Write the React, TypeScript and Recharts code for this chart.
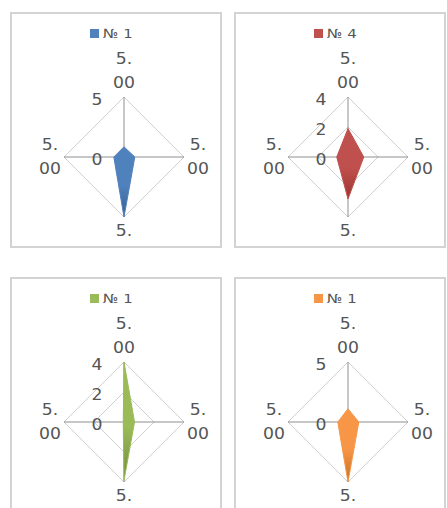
import { RadarChart, Radar, PolarGrid, PolarAngleAxis, PolarRadiusAxis, Legend } from 'recharts'

// category labels round the four spokes (top, right, bottom, left)
const categories = ['5.00', '5.00', '5.00', '5.00']

// one series per little chart
const blueValues = [0.85, 0.9, 5, 0.85]
const redValues = [1.9, 1.05, 2.8, 0.75]
const greenValues = [4, 0.7, 3.9, 0.05]
const orangeValues = [1.1, 0.9, 5, 0.85]

const seriesNames = ['№ 1', '№ 4', '№ 1', '№ 1']
const radiusMax = [5, 4, 4, 5]
const radiusTicks = [
  [0, 5],
  [0, 2, 4],
  [0, 2, 4],
  [0, 5],
]

const FONT = '"DejaVu Sans", sans-serif'
const TEXT = '#555555'

const W = 208
const H = 232
const CX = 112
const CY = 143
const R = 60
const STRETCH = 1.15

const panels = [
  { values: blueValues, color: '#4F81BD', dark: '#3A5F8E', left: 10, top: 12 },
  { values: redValues, color: '#C0504D', dark: '#9B3431', left: 234, top: 12 },
  { values: greenValues, color: '#9BBB59', dark: '#6F8A3A', left: 10, top: 277 },
  { values: orangeValues, color: '#F79646', dark: '#C86F22', left: 234, top: 277 },
]

function CategoryTick(props: any) {
  const { payload } = props
  const label = categories[payload.value] ?? ''
  const a = (payload.coordinate * Math.PI) / 180
  const cos = Math.cos(a)
  const sin = Math.sin(a)
  const bx = CX + R * cos + 14 * cos
  const by = CY - R * sin - 26 * sin
  const cut = label.indexOf('.') + 1
  // wrapped like the original: lines that fall past the frame are dropped
  const lines = [
    { t: label.slice(0, cut), dy: -12 },
    { t: label.slice(cut), dy: 12 },
  ].filter((l) => by + l.dy + 6 < H - 2)
  return (
    <g transform={`translate(${bx} ${by}) scale(${STRETCH} 1)`}>
      <text textAnchor="middle" fontSize={15} fontFamily={FONT} fill={TEXT}>
        {lines.map((l, i) => (
          <tspan key={i} x={0} y={l.dy} dominantBaseline="central">
            {l.t}
          </tspan>
        ))}
      </text>
    </g>
  )
}

function RadiusTick(props: any) {
  const { payload } = props
  const y = CY - payload.coordinate + 2.5
  return (
    <g transform={`translate(${CX - 27} ${y}) scale(${STRETCH} 1)`}>
      <text textAnchor="middle" dominantBaseline="central" fontSize={15} fontFamily={FONT} fill={TEXT}>
        {payload.value}
      </text>
    </g>
  )
}

function LegendBox({ name, color }: { name: string; color: string }) {
  return (
    <div
      style={{
        display: 'flex',
        alignItems: 'center',
        justifyContent: 'center',
        fontFamily: FONT,
        fontSize: 13,
        color: TEXT,
        lineHeight: '15px',
      }}
    >
      <span style={{ display: 'inline-block', width: 9, height: 9, background: color, marginRight: 4 }} />
      <span style={{ display: 'inline-block', transform: `scaleX(${STRETCH})`, transformOrigin: 'left center', marginRight: 6 }}>
        {name}
      </span>
    </div>
  )
}

function Panel({ idx }: { idx: number }) {
  const p = panels[idx]
  const data = categories.map((c, i) => ({ slot: i, label: c, value: p.values[i] }))
  return (
    <div
      style={{
        position: 'absolute',
        left: p.left,
        top: p.top,
        width: W + 4,
        height: H + 4,
        boxSizing: 'border-box',
        border: '2px solid #D3D3D3',
        overflow: 'hidden',
        background: '#fff',
      }}
    >
      <RadarChart width={W} height={H} data={data} cx={CX} cy={CY} outerRadius={R} margin={{ top: 0, right: 0, bottom: 0, left: 0 }}>
        <defs>
          <linearGradient id={`fill${idx}`} x1="0" y1="0" x2="0" y2="1">
            <stop offset="0%" stopColor={p.color} />
            <stop offset="55%" stopColor={p.color} />
            <stop offset="100%" stopColor={p.dark} />
          </linearGradient>
        </defs>
        <PolarGrid gridType="polygon" radialLines={false} stroke="#D0D0D0" />
        <PolarGrid gridType="polygon" polarRadius={[]} stroke="#8E8E8E" />
        <PolarAngleAxis dataKey="slot" tick={CategoryTick} axisLine={false} tickLine={false} />
        <PolarRadiusAxis
          angle={90}
          domain={[0, radiusMax[idx]]}
          ticks={radiusTicks[idx] as any}
          tickCount={radiusTicks[idx].length}
          axisLine={false}
          tickLine={false}
          tick={RadiusTick}
        />
        <Radar
          dataKey="value"
          name={seriesNames[idx]}
          fill={`url(#fill${idx})`}
          fillOpacity={1}
          stroke={p.color}
          strokeWidth={1}
          isAnimationActive={false}
        />
        <Legend
          verticalAlign="middle"
          align="center"
          wrapperStyle={{ top: 12, left: 0, width: 200 }}
          content={() => <LegendBox name={seriesNames[idx]} color={p.color} />}
        />
      </RadarChart>
    </div>
  )
}

export default function App() {
  return (
    <div style={{ position: 'absolute', left: 0, top: 0, width: 447, height: 508, background: '#fff', overflow: 'hidden' }}>
      {panels.map((_, i) => (
        <Panel key={i} idx={i} />
      ))}
    </div>
  )
}
